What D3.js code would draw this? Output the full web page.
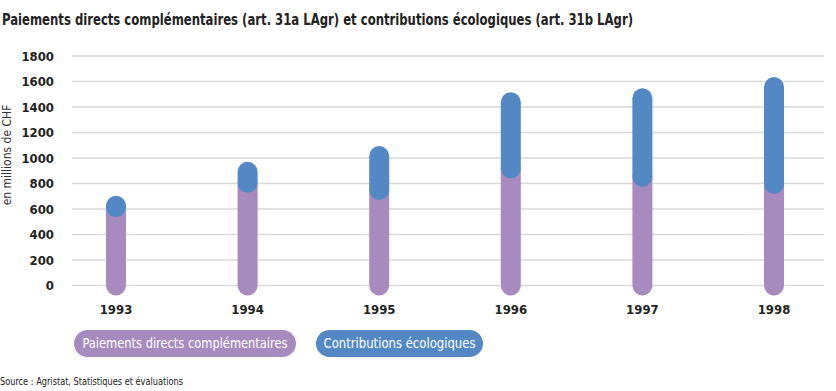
<!DOCTYPE html>
<html>
<head>
<meta charset="utf-8">
<script src="https://cdn.jsdelivr.net/npm/d3@7"></script>
<style>
  body { margin: 0; background: #fff; }
  text { font-family: "DejaVu Sans Condensed", "Liberation Sans Narrow", sans-serif; }
</style>
</head>
<body>
<div id="chart"></div>
<script>
// data
var years = ['1993', '1994', '1995', '1996', '1997', '1998'];
var paiements = [615, 806, 749, 919, 853, 796];      // paiements directs complémentaires
var ecologiques = [10, 86, 267, 518, 615, 761];      // contributions écologiques
var yTicks = [0, 200, 400, 600, 800, 1000, 1200, 1400, 1600, 1800];
var seriesNames = ['Paiements directs complémentaires', 'Contributions écologiques'];
var colors = ['#a78bbe', '#5388c5'];

var width = 836, height = 391;

var svg = d3.select('#chart').append('svg')
    .attr('width', width)
    .attr('height', height);

var y = d3.scaleLinear()
    .domain([0, 1800])
    .range([285.5, 56]);

var x = d3.scalePoint()
    .domain(years)
    .range([116, 774]);

// title
svg.append('text')
    .attr('x', 2)
    .attr('y', 25)
    .attr('font-size', 15.5)
    .attr('font-weight', 'bold')
    .attr('fill', '#222')
    .attr('textLength', 631)
    .attr('lengthAdjust', 'spacingAndGlyphs')
    .text('Paiements directs complémentaires (art. 31a LAgr) et contributions écologiques (art. 31b LAgr)');

// grid
svg.append('g')
    .selectAll('line')
    .data(yTicks)
    .enter().append('line')
    .attr('x1', 72)
    .attr('x2', 824)
    .attr('y1', function (d) { return y(d); })
    .attr('y2', function (d) { return y(d); })
    .attr('stroke', '#d9d9d9')
    .attr('stroke-width', 1.5);

// y tick labels
svg.append('g')
    .selectAll('text')
    .data(yTicks)
    .enter().append('text')
    .attr('x', 54)
    .attr('y', function (d) { return y(d); })
    .attr('dy', '0.35em')
    .attr('text-anchor', 'end')
    .attr('font-size', 13)
    .attr('font-weight', 'bold')
    .attr('fill', '#222')
    .text(function (d) { return d; });

// y axis title
svg.append('text')
    .attr('transform', 'translate(11,155) rotate(-90)')
    .attr('text-anchor', 'middle')
    .attr('font-size', 12)
    .attr('fill', '#333')
    .text('en millions de CHF');

// bars: round-capped thick lines
var bars = svg.append('g');
bars.selectAll('line.p')
    .data(years)
    .enter().append('line')
    .attr('class', 'p')
    .attr('x1', function (d) { return x(d); })
    .attr('x2', function (d) { return x(d); })
    .attr('y1', y(0))
    .attr('y2', function (d, i) { return y(paiements[i]); })
    .attr('stroke', colors[0])
    .attr('stroke-width', 20)
    .attr('stroke-linecap', 'round');

bars.selectAll('line.e')
    .data(years)
    .enter().append('line')
    .attr('class', 'e')
    .attr('x1', function (d) { return x(d); })
    .attr('x2', function (d) { return x(d); })
    .attr('y1', function (d, i) { return y(paiements[i]); })
    .attr('y2', function (d, i) { return y(paiements[i] + ecologiques[i]); })
    .attr('stroke', colors[1])
    .attr('stroke-width', 20)
    .attr('stroke-linecap', 'round');

// x labels
svg.append('g')
    .selectAll('text')
    .data(years)
    .enter().append('text')
    .attr('x', function (d) { return x(d); })
    .attr('y', 314)
    .attr('text-anchor', 'middle')
    .attr('font-size', 13)
    .attr('font-weight', 'bold')
    .attr('fill', '#222')
    .text(function (d) { return d; });

// legend pills
var legendBoxes = [[74, 296], [316, 483]];
var legendText = [205, 152];
var lg = svg.append('g');
lg.selectAll('rect')
    .data(seriesNames)
    .enter().append('rect')
    .attr('x', function (d, i) { return legendBoxes[i][0]; })
    .attr('y', 330)
    .attr('width', function (d, i) { return legendBoxes[i][1] - legendBoxes[i][0]; })
    .attr('height', 27)
    .attr('rx', 13.5)
    .attr('fill', function (d, i) { return colors[i]; });
lg.selectAll('text')
    .data(seriesNames)
    .enter().append('text')
    .attr('x', function (d, i) { return (legendBoxes[i][0] + legendBoxes[i][1]) / 2; })
    .attr('y', 343.5)
    .attr('dy', '0.35em')
    .attr('text-anchor', 'middle')
    .attr('font-size', 14)
    .attr('fill', '#fff')
    .attr('textLength', function (d, i) { return legendText[i]; })
    .attr('lengthAdjust', 'spacingAndGlyphs')
    .text(function (d) { return d; });

// source
svg.append('text')
    .attr('x', 0)
    .attr('y', 385)
    .attr('font-size', 11)
    .attr('fill', '#222')
    .attr('textLength', 183)
    .attr('lengthAdjust', 'spacingAndGlyphs')
    .text('Source : Agristat, Statistiques et évaluations');
</script>
</body>
</html>
